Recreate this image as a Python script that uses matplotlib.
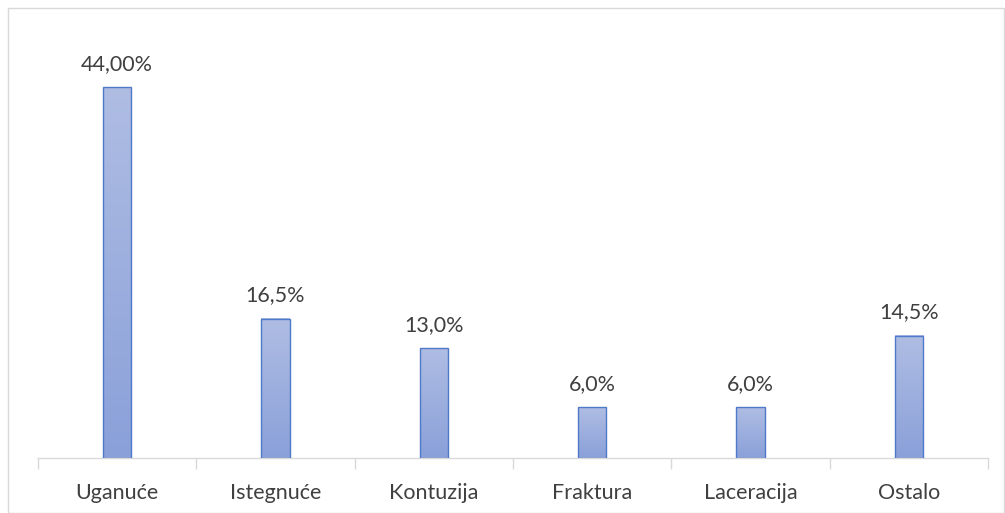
import numpy as np
import matplotlib.pyplot as plt
from matplotlib.patches import Rectangle
from matplotlib.colors import LinearSegmentedColormap

categories = ['Uganuće', 'Istegnuće', 'Kontuzija', 'Fraktura', 'Laceracija', 'Ostalo']
values = [44.0, 16.5, 13.0, 6.0, 6.0, 14.5]
labels = ['44,00%', '16,5%', '13,0%', '6,0%', '6,0%', '14,5%']

plt.rcParams['font.family'] = ['Lato', 'DejaVu Sans']

fig = plt.figure(figsize=(10.05, 5.13), dpi=100)
ax = fig.add_axes([0.0378, 0.1072, 0.9453, 0.8216])

x = np.arange(len(categories))
width = 0.178
grad = np.linspace(0, 1, 256).reshape(-1, 1)
cmap = LinearSegmentedColormap.from_list('g', ['#8aa0d9', '#afbde3'])

for xi, v, lab in zip(x, values, labels):
    ax.imshow(grad, extent=(xi - width / 2, xi + width / 2, 0, v),
              origin='lower', cmap=cmap, aspect='auto', zorder=2)
    ax.add_patch(Rectangle((xi - width / 2, 0), width, v, facecolor='none',
                           edgecolor='#4f79c9', lw=1.0, zorder=3))
    ax.text(xi, v + 1.6, lab, ha='center', va='bottom', fontsize=15.5, color='#404040')

ax.set_xlim(-0.5, len(categories) - 0.5)
ax.set_ylim(0, 50)
ax.set_yticks([])
ax.set_xticks(x)
ax.set_xticklabels(categories, fontsize=15.5, color='#404040')
ax.tick_params(axis='x', length=0, pad=18)
ax.set_xticks(np.arange(-0.5, len(categories)), minor=True)
ax.tick_params(axis='x', which='minor', length=8, color='#d9d9d9', width=1)
for s in ['top', 'right', 'left']:
    ax.spines[s].set_visible(False)
ax.spines['bottom'].set_color('#d9d9d9')
ax.spines['bottom'].set_linewidth(1)

fig.patches.append(Rectangle((0.008, 0.0), 0.991, 0.984, transform=fig.transFigure,
                             fill=False, edgecolor='#d9d9d9', lw=1))

plt.savefig('out.png', dpi=100)
